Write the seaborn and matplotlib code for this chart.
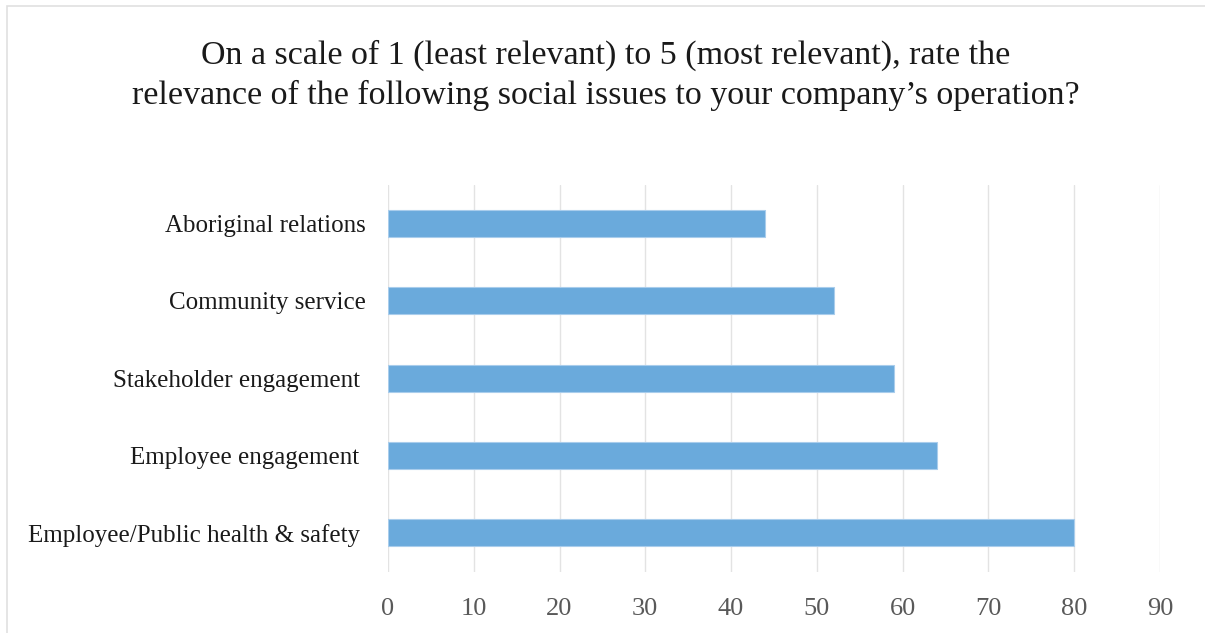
import matplotlib
matplotlib.use("Agg")
import matplotlib.pyplot as plt
from matplotlib.patches import Rectangle
import seaborn as sns
import pandas as pd

issues = [
    "Aboriginal relations",
    "Community service",
    "Stakeholder engagement ",
    "Employee engagement ",
    "Employee/Public health & safety ",
]
scores = [44, 52, 59, 64, 80]
x_ticks = [0, 10, 20, 30, 40, 50, 60, 70, 80, 90]
title = ("On a scale of 1 (least relevant) to 5 (most relevant), rate the\n"
         "relevance of the following social issues to your company\u2019s operation?")

sns.set_theme(style="white")
plt.rcParams["font.family"] = ["Liberation Serif", "DejaVu Serif"]

df = pd.DataFrame({"issue": issues, "score": scores})

fig = plt.figure(figsize=(12.05, 6.33), dpi=100)
ax = fig.add_axes([0.322, 0.097, 0.6405, 0.611])

sns.barplot(data=df, x="score", y="issue", orient="h", color="#6aaadc",
            width=0.35, edgecolor="#a9cdec", linewidth=0.8, saturation=1,
            ax=ax, zorder=3)

ax.set_xlim(0, 90)
ax.set_ylim(4.5, -0.5)
ax.set_xticks(x_ticks)
ax.set_xticklabels([str(t) for t in x_ticks])
ax.xaxis.grid(True, color="#e3e3e3", linewidth=1.0, zorder=0)
ax.yaxis.grid(False)
for s in ax.spines.values():
    s.set_visible(False)
ax.set_xlabel("")
ax.set_ylabel("")
ax.tick_params(axis="x", length=0, pad=19, labelsize=19, labelcolor="#595959")
ax.tick_params(axis="y", length=0, pad=16, labelsize=18, labelcolor="#1a1a1a")

fig.text(0.503, 0.881, title, ha="center", va="center", fontsize=24.5,
         color="#1a1a1a", linespacing=1.35)

# light frame around the chart area
fig.patches.append(Rectangle((7 / 1205, -0.05), 1.1, 1 - 6 / 633 + 0.05,
                             transform=fig.transFigure, fill=False,
                             edgecolor="#e0e0e0", linewidth=1.2))

fig.savefig("out.png", dpi=100)
